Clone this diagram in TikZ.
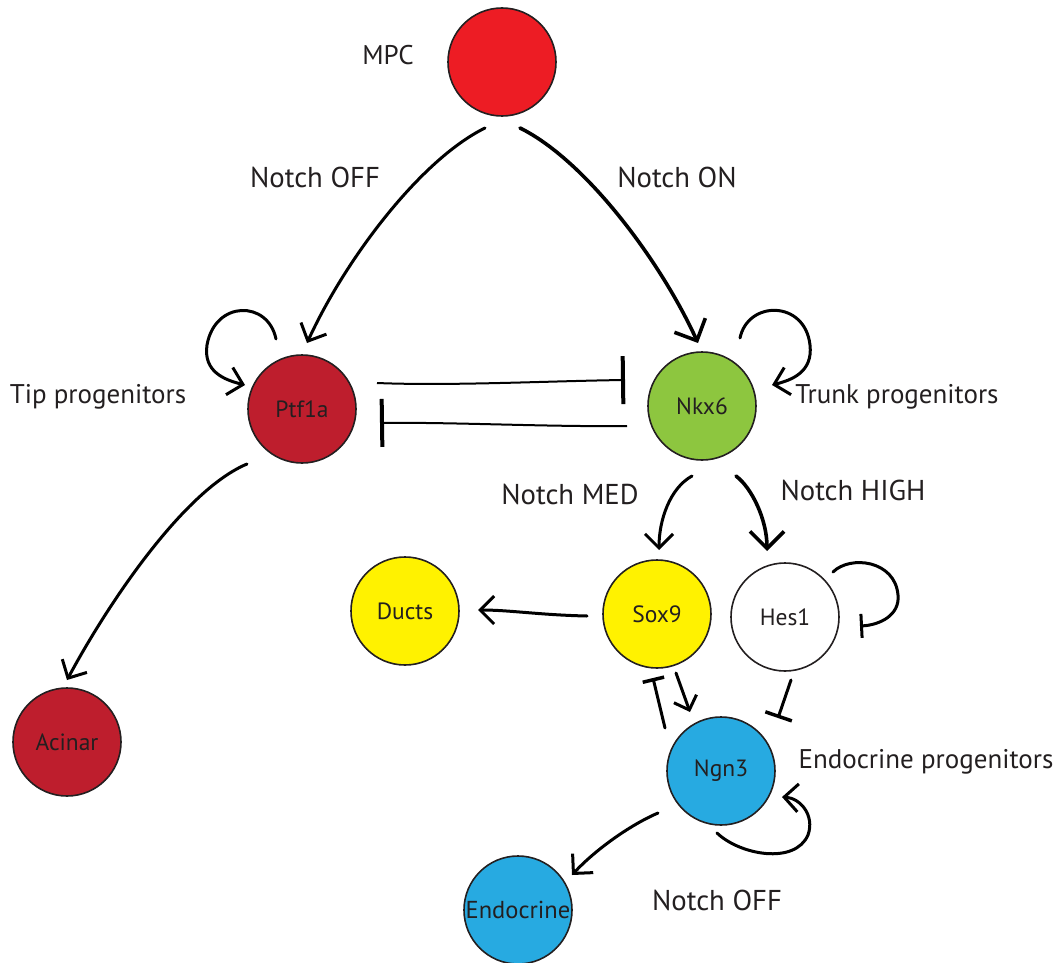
\documentclass[tikz,border=0pt]{standalone}
\usepackage{fontspec}
\setmainfont{PT Sans}
\usetikzlibrary{arrows.meta,calc}
\definecolor{mpcred}{HTML}{ED1C24}
\definecolor{darkred}{HTML}{BE1E2D}
\definecolor{leaf}{HTML}{8DC63F}
\definecolor{yel}{HTML}{FFF200}
\definecolor{sky}{HTML}{27AAE1}
\definecolor{ink}{HTML}{231F20}
\tikzset{
  cell/.style={circle,draw=ink,line width=1.6pt,minimum size=108pt,inner sep=0pt,text=ink,font=\fontsize{23.5}{26}\selectfont},
  lab/.style={text=ink,inner sep=0pt,font=\fontsize{27}{30}\selectfont},
  nlab/.style={text=ink,inner sep=0pt,font=\fontsize{28.7}{32}\selectfont},
  act/.style={line width=3pt,line cap=round,-{Straight Barb[length=14pt,width=28pt,line width=3pt]}},
  bigact/.style={line width=3.6pt,line cap=round,-{Straight Barb[length=17pt,width=34pt,line width=3.6pt]}},
  inh/.style={line width=2pt,-{Bar[width=48pt,line width=4pt]}},
  sinh/.style={line width=3pt,line cap=round,-{Bar[width=24pt,line width=3pt]}},
}
\begin{document}
\begin{tikzpicture}[x={(1pt,0)},y={(0,-1pt)}]
\useasboundingbox (0,0) rectangle (1057,963);
% cells
\node[cell,fill=mpcred] (mpc) at (502,62) {};
\node[cell,fill=darkred] (ptf) at (302,409) {Ptf1a};
\node[cell,fill=leaf] (nkx) at (702,406) {Nkx6};
\node[cell,fill=darkred] (acinar) at (67,742) {Acinar};
\node[cell,fill=yel] (sox) at (657,614) {Sox9};
\node[cell,fill=white] (hes) at (785,617) {Hes1};
\node[cell,fill=yel] (ducts) at (405,611) {Ducts};
\node[cell,fill=sky] (ngn) at (721,771) {Ngn3};
\node[cell,fill=sky,font=\fontsize{24.5}{27}\selectfont] (endo) at (518,910) {Endocrine};
% labels
\node[lab] (lmpc) at (388,55) {MPC};
\node[nlab] (loff) at (315,177) {Notch OFF};
\node[nlab] (lon) at (677,177) {Notch ON};
\node[lab] (ltip) at (98,397) {Tip progenitors};
\node[lab] (ltrunk) at (897,397) {Trunk progenitors};
\node[nlab] (lmed) at (570,494) {Notch MED};
\node[nlab] (lhigh) at (853,490) {Notch HIGH};
\node[lab] (lendo) at (926,762) {Endocrine progenitors};
\node[nlab] (loff2) at (717,900) {Notch OFF};
% MPC branches
\draw[act] ($(mpc)+(-17,66)$) .. controls (420,160) and (345,260) .. ($(ptf)+(5,-66)$);
\draw[bigact] ($(mpc)+(18,66)$) .. controls (585,160) and (660,260) .. ($(nkx)+(-4,-63)$);
% self loops
\draw[act] ($(ptf)+(-26,-70)$) .. controls (268,300) and (215,300) .. (207,345) .. controls (203,372) and (225,380) .. ($(ptf)+(-57,-24)$);
\draw[act] ($(nkx)+(38,-68)$) .. controls (748,300) and (805,300) .. (810,345) .. controls (813,372) and (792,380) .. ($(nkx)+(70,-21)$);
% mutual inhibition
\draw[inh] ($(ptf)+(75,-26)$) .. controls (450,386) and (550,381) .. ($(nkx)+(-77,-26)$);
\draw[inh] ($(nkx)+(-75,20)$) .. controls (550,427) and (450,422) .. ($(ptf)+(78,14)$);
% acinar
\draw[act] ($(ptf)+(-55,55)$) .. controls (185,490) and (110,600) .. ($(acinar)+(0,-62)$);
% nkx6 branches
\draw[act] ($(nkx)+(-10,70)$) .. controls (670,488) and (659,520) .. ($(sox)+(2,-64)$);
\draw[bigact] ($(nkx)+(34,70)$) .. controls (752,488) and (767,520) .. ($(hes)+(-18,-66)$);
% sox9 -> ducts
\draw[act] ($(sox)+(-70,2)$) .. controls (540,615) and (510,610) .. ($(ducts)+(73,-1)$);
% hes1 self inhibition
\draw[sinh] ($(hes)+(48,-45)$) .. controls (850,555) and (895,560) .. (898,595) .. controls (900,615) and (880,625) .. ($(hes)+(75,9)$);
% sox9 / ngn3
\draw[sinh,-{Bar[width=22pt,line width=3.5pt]}] ($(ngn)+(-56,-43)$) -- ($(sox)+(-4,64)$);
\draw[act,-{Straight Barb[length=12pt,width=24pt,line width=3pt]}] ($(sox)+(19,59)$) -- ($(ngn)+(-31,-59)$);
\draw[sinh,-{Bar[width=28pt,line width=3.5pt]}] ($(hes)+(6,63)$) -- ($(ngn)+(57,-53)$);
% ngn3 -> endocrine
\draw[act] ($(ngn)+(-63,42)$) .. controls (630,825) and (595,850) .. ($(endo)+(54,-35)$);
% ngn3 self loop
\draw[act] ($(ngn)+(-4,62)$) .. controls (740,855) and (795,865) .. (808,835) .. controls (815,815) and (800,798) .. ($(ngn)+(61,26)$);
\end{tikzpicture}
\end{document}
